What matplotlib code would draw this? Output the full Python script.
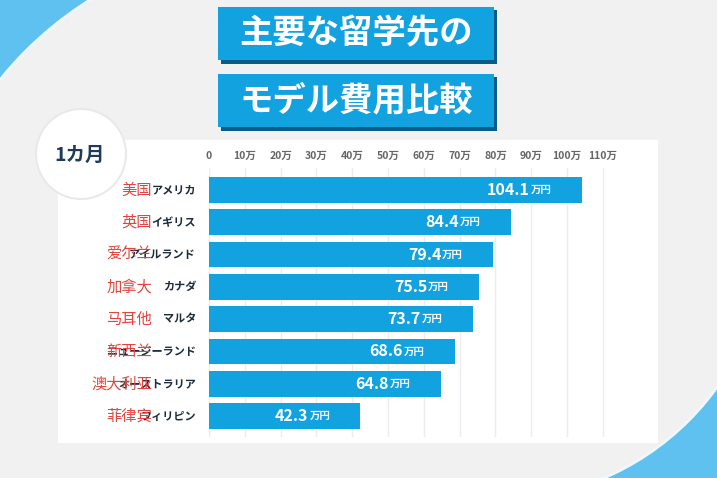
import matplotlib
matplotlib.use("Agg")
import matplotlib.pyplot as plt
from matplotlib.patches import Rectangle, Circle

plt.rcParams['font.family'] = ['Noto Sans CJK JP', 'DejaVu Sans']

# Data
names_ja = ["アメリカ", "イギリス", "アイルランド", "カナダ", "マルタ",
            "ニュージーランド", "オーストラリア", "フィリピン"]
names_zh = ["美国", "英国", "爱尔兰", "加拿大", "马耳他", "新西兰", "澳大利亚", "菲律宾"]
costs = [104.1, 84.4, 79.4, 75.5, 73.7, 68.6, 64.8, 42.3]
ticks = [0, 10, 20, 30, 40, 50, 60, 70, 80, 90, 100, 110]
tick_labels = ["0"] + [str(t) + "万" for t in ticks[1:]]
title_lines = ["主要な留学先の", "モデル費用比較"]
period = "1カ月"

W, H = 717, 478
BLUE = "#12a2df"
SHADOW = "#0b5c86"
GRAY = "#f1f1f1"
LIGHT_BLUE = "#5fc1ef"

fig = plt.figure(figsize=(W / 100, H / 100), dpi=100)
fig.patch.set_facecolor(GRAY)

# Background layer in pixel coordinates
bg = fig.add_axes([0, 0, 1, 1])
bg.set_xlim(0, W)
bg.set_ylim(H, 0)
bg.axis("off")

# Corner decorations: blue corner cut by a big gray circle
corners = [((0, 0), 110, 95, (284, 309), 365),
           ((595, 375), 122, 103, (497, 229), 271)]
for (cx, cy), cw, ch, centre, r in corners:
    box = Rectangle((cx, cy), cw, ch, facecolor=LIGHT_BLUE, edgecolor="none")
    bg.add_patch(box)
    c = Circle(centre, r, facecolor=GRAY, edgecolor="#eef8fd", linewidth=2)
    bg.add_patch(c)
    c.set_clip_path(box)

# White panel
bg.add_patch(Rectangle((58, 140), 600, 303, facecolor="white", edgecolor="none"))

# Period circle
bg.add_patch(Circle((81, 154), 45, facecolor="white", edgecolor="#e9e9e9",
                    linewidth=1.5))
bg.text(80, 155, period, ha="center", va="center", fontsize=14,
        fontweight="bold", color="#1d3b5a")

# Title boxes
for i, line in enumerate(title_lines):
    y0 = 7 + i * 67
    bg.add_patch(Rectangle((221, y0 + 3), 276, 54, facecolor=SHADOW, edgecolor="none"))
    bg.add_patch(Rectangle((218, y0), 276, 53, facecolor=BLUE, edgecolor="none"))
    bg.text(356, y0 + 27, line, ha="center", va="center", fontsize=24,
            fontweight="bold", color="white")

# Chart axes
x0, x1 = 209, 640
ytop, ybot = 168, 437
scale = 3.58
ax = fig.add_axes([x0 / W, 1 - ybot / H, (x1 - x0) / W, (ybot - ytop) / H])
ax.set_facecolor("none")
ax.set_xlim(0, (x1 - x0) / scale)
ax.set_ylim(7.65, -0.68)

for t in ticks:
    ax.axvline(t, color="#ececec", linewidth=1, zorder=0)

pos = list(range(len(costs)))
ax.barh(pos, costs, height=0.8, color=BLUE, zorder=2)

ax.xaxis.tick_top()
ax.set_xticks(ticks)
ax.set_xticklabels(tick_labels, fontsize=7.5, fontweight="bold", color="#666666")
ax.tick_params(axis="x", length=0, pad=5)
ax.set_yticks([])
for s in ax.spines.values():
    s.set_visible(False)

for i, v in enumerate(costs):
    ax.annotate(f"{v:.1f}", xy=(v, i), xytext=(-52, 0), textcoords="offset pixels",
                ha="right", va="center", fontsize=11.5, fontweight="bold",
                color="white", zorder=3)
    ax.annotate("万円", xy=(v, i), xytext=(-51, 0), textcoords="offset pixels",
                ha="left", va="center", fontsize=7.5, fontweight="bold",
                color="white", zorder=3)
    ax.annotate(names_ja[i], xy=(0, i), xytext=(-13, 0), textcoords="offset pixels",
                ha="right", va="center", fontsize=8, fontweight="bold",
                color="#1c2b3a", annotation_clip=False, zorder=3)
    ax.annotate(names_zh[i], xy=(0, i), xytext=(-57, 0), textcoords="offset pixels",
                ha="right", va="center", fontsize=11, color="#e0453f",
                family=["Noto Sans CJK SC", "DejaVu Sans"],
                annotation_clip=False, zorder=4)

fig.savefig("out.png", dpi=100)
